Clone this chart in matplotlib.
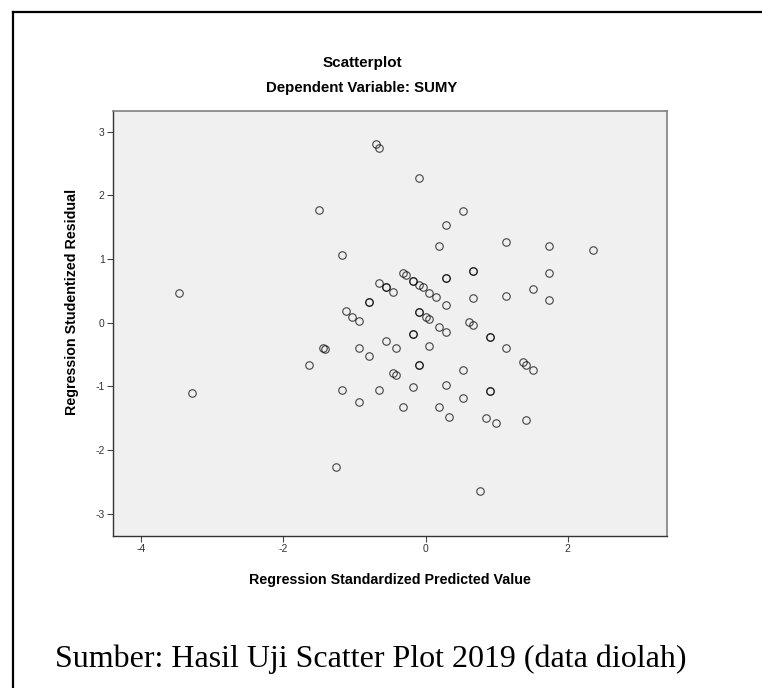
import matplotlib
matplotlib.use("Agg")
import matplotlib.pyplot as plt
from matplotlib.lines import Line2D

# standardized predicted value (x) and studentized residual (y)
pred = [-0.70, -0.65, -0.09, -1.50, 0.52, 0.29, 0.19, 1.13, 1.74, 2.35,
        -1.17, -3.47, -0.32, -0.28, 0.66, 0.66, 0.29, 0.29, -0.18, -0.18,
        -0.65, -0.56, -0.56, -0.46, -0.09, -0.04, 0.05, 0.15, 0.29, 0.66,
        1.74, 1.51, 1.13, 1.74, -0.80, -0.80, -1.12, -1.03, -0.94, -0.09,
        -0.09, 0.01, 0.05, 0.19, 0.29, 0.61, 0.66, 0.90, 0.90, -0.18,
        -0.18, -0.56, -0.42, 0.05, -0.94, -1.45, -1.41, 1.13, -0.80, -1.64,
        -0.09, -0.09, -0.46, -0.42, 0.52, 1.37, 1.41, 1.51, -3.28, -1.17,
        -0.65, -0.94, -0.18, 0.29, 0.90, 0.90, 0.52, -0.32, 0.19, 0.33,
        0.85, 0.99, 1.41, -1.26, 0.76]
resid = [2.80, 2.75, 2.27, 1.77, 1.76, 1.53, 1.20, 1.26, 1.20, 1.14,
         1.06, 0.46, 0.78, 0.75, 0.81, 0.81, 0.70, 0.70, 0.66, 0.66,
         0.63, 0.56, 0.56, 0.48, 0.59, 0.56, 0.47, 0.40, 0.28, 0.39,
         0.78, 0.53, 0.42, 0.35, 0.33, 0.33, 0.18, 0.09, 0.02, 0.17,
         0.17, 0.09, 0.05, -0.07, -0.14, 0.01, -0.04, -0.23, -0.23, -0.18,
         -0.18, -0.28, -0.39, -0.37, -0.39, -0.40, -0.42, -0.40, -0.52, -0.67,
         -0.67, -0.67, -0.79, -0.82, -0.75, -0.62, -0.66, -0.74, -1.11, -1.06,
         -1.06, -1.24, -1.01, -0.98, -1.07, -1.07, -1.18, -1.32, -1.33, -1.48,
         -1.49, -1.58, -1.53, -2.26, -2.64]

xticks = [-4, -2, 0, 2]
yticks = [-3, -2, -1, 0, 1, 2, 3]

W, H = 762, 688
fig = plt.figure(figsize=(W / 100, H / 100), dpi=100)
fig.patch.set_facecolor("white")

sans = ["Liberation Sans", "DejaVu Sans"]

ax = fig.add_axes([113 / W, 1 - 535.5 / H, (666.5 - 113) / W, (535.5 - 110.5) / H])
ax.set_facecolor("#f0f0f0")
ax.plot(pred, resid, "o", ls="none", ms=5.4, mfc="none", mec="#000000",
        mew=0.8, alpha=0.72)

ax.set_xlim(-4.397, 3.388)
ax.set_ylim(-3.341, 3.331)
ax.set_xticks(xticks)
ax.set_yticks(yticks)
ax.set_xticklabels([str(v) for v in xticks], fontfamily=sans, fontsize=7.5, color="#333333")
ax.set_yticklabels([str(v) for v in yticks], fontfamily=sans, fontsize=7.5, color="#333333")
ax.tick_params(direction="out", length=4.5, width=0.8, color="#444444", pad=1.5)

for side in ["left", "bottom"]:
    ax.spines[side].set_color("#333333")
    ax.spines[side].set_linewidth(1.0)
for side in ["top", "right"]:
    ax.spines[side].set_color("#808080")
    ax.spines[side].set_linewidth(1.2)

ax.set_xlabel("Regression Standardized Predicted Value", fontfamily=sans,
              fontsize=10.3, fontweight="bold", labelpad=14)
ax.set_ylabel("Regression Studentized Residual", fontfamily=sans,
              fontsize=10.3, fontweight="bold", labelpad=14)
ax.yaxis.set_label_coords(-0.062, 0.55)

fig.text(362 / W, 1 - 63 / H, "Scatterplot", ha="center", va="center",
         fontfamily=sans, fontsize=11, fontweight="bold")
fig.text(362 / W, 1 - 88 / H, "Dependent Variable: SUMY", ha="center", va="center",
         fontfamily=sans, fontsize=10.8, fontweight="bold")

# caption under the chart
fig.text(55 / W, 1 - 667 / H, "Sumber: Hasil Uji Scatter Plot 2019 (data diolah)",
         ha="left", va="baseline", fontfamily=["Liberation Serif", "DejaVu Serif"],
         fontsize=23, color="black")

# outer box, only its left and top sides fall inside the picture
fig.add_artist(Line2D([13 / W, 13 / W], [0, 1 - 12 / H], transform=fig.transFigure,
                      color="black", lw=1.6))
fig.add_artist(Line2D([13 / W, 1], [1 - 12 / H, 1 - 12 / H], transform=fig.transFigure,
                      color="black", lw=1.6))

fig.savefig("out.png", dpi=100)
